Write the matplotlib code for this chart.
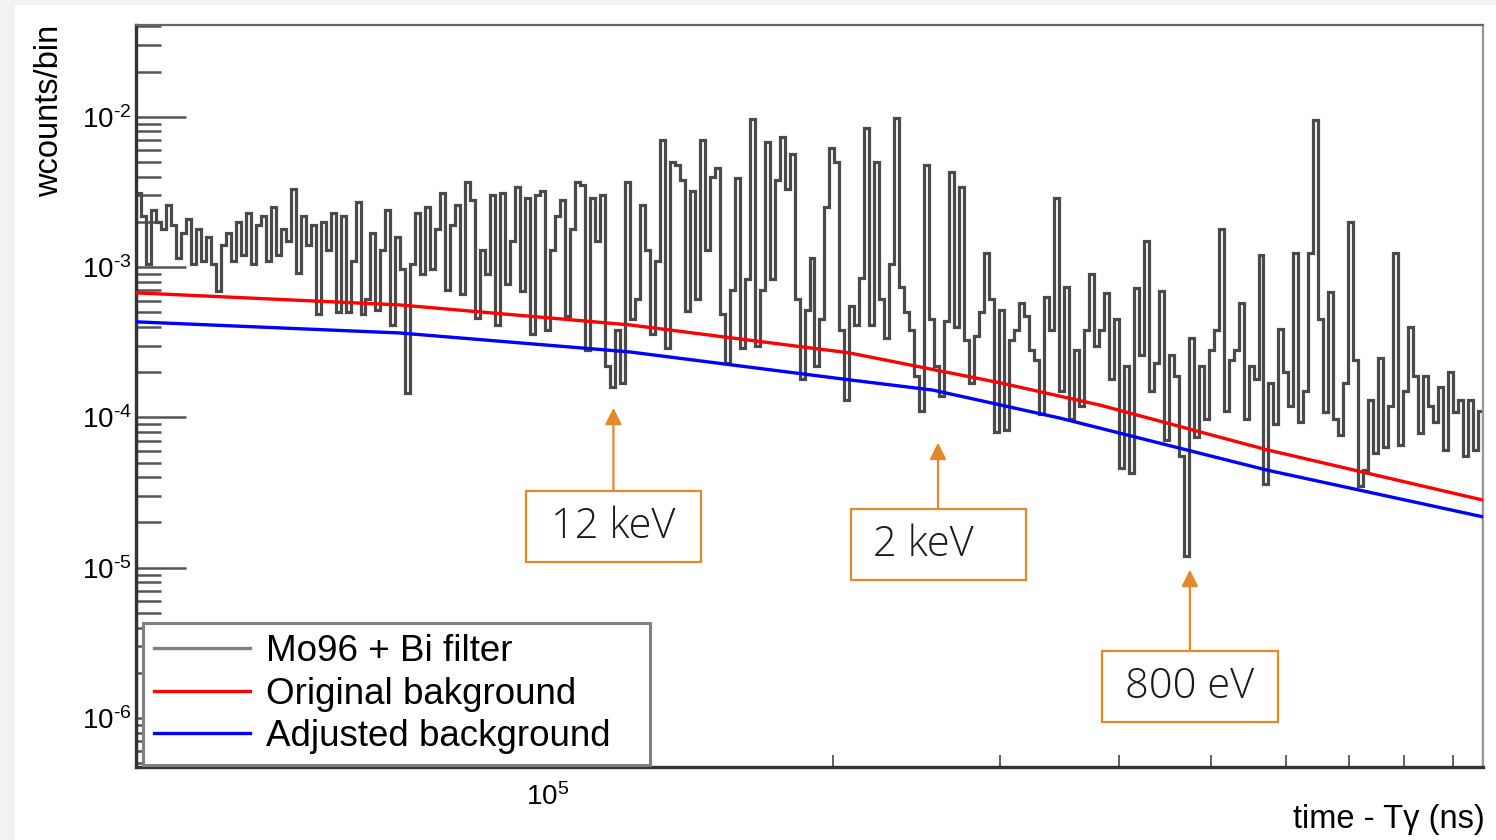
import numpy as np
import matplotlib
matplotlib.use("Agg")
import matplotlib.pyplot as plt
from matplotlib.patches import Rectangle
from matplotlib.ticker import LogLocator, NullFormatter, FuncFormatter
from matplotlib.transforms import blended_transform_factory

# ---- histogram: Mo96 + Bi filter (wcounts/bin, in units of 1e-4), log-spaced bins ----
T_MIN, T_MAX, N_BINS = 3.68e4, 9.69e5, 270

seg1_e4 = [31, 22, 10.5, 24, 20, 18, 26, 19, 11.5, 17,
           21, 10.5, 18, 11, 16, 10.5, 6.9, 14, 17, 11,
           20, 12, 23, 10.5, 19, 22, 11, 25, 12, 18,
           15, 33, 9.2, 22, 14, 19, 4.9, 20, 13, 23,
           5.0, 22, 5.0, 11, 27, 4.9]
seg2_e4 = [6.1, 17, 5.2, 13, 24, 4.1, 16, 9.7, 1.45, 10.5,
           23, 9, 25, 9.7, 18, 31, 7.1, 19, 26, 6.6,
           37, 28, 4.6, 13, 9, 30, 4.1, 31, 7.7, 15,
           34, 6.9, 29, 3.6, 30, 32, 3.8, 13, 22, 28,
           4.7, 18, 37, 35, 2.8]
seg3_e4 = [29, 15, 30, 2.2, 1.6, 3.8, 1.7, 37, 4.5, 6.1,
           26, 13, 3.6, 11, 70, 2.9, 50, 48, 38, 5.1,
           32, 6.1, 70, 13, 40, 46, 4.9, 2.3, 7.1, 39,
           2.9, 8.3, 97, 3.0, 7.1, 68, 8.3, 38, 74, 33,
           57, 6.1, 1.8, 5.2, 11.5]
seg4_e4 = [2.2, 4.5, 25, 62, 50, 3.8, 1.3, 5.5, 4.1, 8.5,
           85, 4.1, 50, 6.1, 3.4, 10.5, 98, 7.4, 5.0, 3.8,
           1.9, 1.1, 48, 4.5, 2.2, 1.4, 4.4, 43, 4.0, 34,
           3.3, 1.7, 3.5, 5.0, 12.5, 6.1, 0.8, 5.2, 0.83, 3.3,
           3.8, 5.8, 4.7, 2.8, 2.4]
seg5_e4 = [1.05, 6.3, 3.8, 29, 1.5, 7.4, 0.97, 2.8, 1.2, 3.8,
           9, 3.0, 3.8, 6.7, 1.8, 4.5, 0.46, 2.2, 0.43, 7.3,
           2.6, 15, 1.5, 2.3, 6.9, 0.71, 2.6, 1.9, 0.55, 0.12,
           3.4, 0.74, 2.2, 0.97, 2.8, 3.8, 18, 1.1, 2.4, 2.8,
           5.8, 0.97, 2.2, 1.8, 12]
seg6_e4 = [0.36, 1.7, 0.9, 3.9, 2.0, 1.2, 12.5, 0.93, 1.5, 12.5,
           96, 4.5, 1.08, 6.8, 0.97, 0.77, 1.7, 20, 2.4, 0.35,
           0.45, 1.3, 0.58, 2.5, 0.64, 1.2, 12.5, 0.66, 1.5, 4.0,
           1.9, 0.79, 1.9, 1.2, 0.93, 1.6, 0.61, 2.0, 1.08, 1.3,
           0.55, 1.3, 0.61, 1.1]

# ---- background curves ----
orig_bkg_t = [3.68e4, 6.98e4, 1.22e5, 2.08e5, 3.0e5, 3.82e5, 5.73e5, 9.69e5]
orig_bkg_v = [6.75e-4, 5.61e-4, 4.13e-4, 2.69e-4, 1.70e-4, 1.21e-4, 6.1e-5, 2.82e-5]
adj_bkg_t = [3.68e4, 6.98e4, 1.22e5, 2.08e5, 2.55e5, 3.47e5, 5.73e5, 9.69e5]
adj_bkg_v = [4.33e-4, 3.65e-4, 2.73e-4, 1.78e-4, 1.52e-4, 9.9e-5, 4.47e-5, 2.18e-5]

# ---- resonance markers ----
res_labels = ["12 keV", "2 keV", "800 eV"]
res_t = [1.173e5, 2.58e5, 4.756e5]
res_v = [1.16e-4, 6.8e-5, 9.7e-6]
# box (x0, y0, w, h) in axes fraction, plus text nudge
res_boxes = [(0.2895, 0.2763, 0.1300, 0.0957),
             (0.5308, 0.2520, 0.1300, 0.0957),
             (0.7171, 0.0606, 0.1307, 0.0957)]
res_text_dx = [0.0, -0.011, 0.0]

plt.rcParams["font.family"] = ["Liberation Sans", "DejaVu Sans"]
plt.rcParams["mathtext.fontset"] = "custom"
plt.rcParams["mathtext.rm"] = "Liberation Sans"
plt.rcParams["axes.unicode_minus"] = False
ORANGE = "#E4892A"


def pow10_label(v, pos):
    # ROOT style: 10^{-2} with a plain hyphen
    e = int(round(np.log10(v)))
    return r"$\mathdefault{10^{\text{%d}}}$" % e


counts = np.array(seg1_e4 + seg2_e4 + seg3_e4 + seg4_e4 + seg5_e4 + seg6_e4) * 1e-4
edges = np.logspace(np.log10(T_MIN), np.log10(T_MAX), N_BINS + 1)

fig = plt.figure(figsize=(14.96, 8.4), dpi=100, facecolor="#f2f2f2")
fig.patches.append(Rectangle((15 / 1496, 0), 1, 1 - 5 / 840, transform=fig.transFigure,
                             facecolor="white", edgecolor="none", zorder=-10))
ax = fig.add_axes([136 / 1496, 73 / 840, 1347 / 1496, 742 / 840])
ax.set_facecolor("white")

ax.stairs(counts, edges, color="#4a4a4a", linewidth=2.3, zorder=2)
ax.plot([], [], color="#808080", linewidth=2.4, label="Mo96 + Bi filter")
ax.plot(orig_bkg_t, orig_bkg_v, color="#ff0000", linewidth=2.4, zorder=3, label="Original bakground")
ax.plot(adj_bkg_t, adj_bkg_v, color="#0000ff", linewidth=2.4, zorder=3, label="Adjusted background")

ax.set_xscale("log"); ax.set_yscale("log")
ax.set_xlim(T_MIN, T_MAX)
ax.set_ylim(4.72e-7, 4.09e-2)

ax.yaxis.set_major_locator(LogLocator(base=10))
ax.yaxis.set_minor_locator(LogLocator(base=10, subs=np.arange(2, 10)))
ax.xaxis.set_minor_locator(LogLocator(base=10, subs=np.arange(2, 10)))
ax.xaxis.set_major_formatter(FuncFormatter(pow10_label))
ax.yaxis.set_major_formatter(FuncFormatter(pow10_label))
ax.xaxis.set_minor_formatter(NullFormatter())
ax.yaxis.set_minor_formatter(NullFormatter())

ax.tick_params(axis="y", which="major", direction="in", length=36, width=1.8, color="#555555",
               left=True, right=False, labelsize=20, pad=3)
ax.tick_params(axis="y", which="minor", direction="in", length=18, width=1.8, color="#555555",
               left=True, right=False)
ax.tick_params(axis="x", which="major", direction="in", length=18, width=1.3, color="#555555",
               bottom=True, top=False, labelsize=20, pad=12)
ax.tick_params(axis="x", which="minor", direction="in", length=9, width=1.3, color="#555555",
               bottom=True, top=False)

for side in ["left", "bottom"]:
    ax.spines[side].set_linewidth(2.4); ax.spines[side].set_color("#333333")
ax.spines["top"].set_linewidth(1.6); ax.spines["top"].set_color("#666666")
ax.spines["right"].set_linewidth(1.6); ax.spines["right"].set_color("#999999")

ax.text(-0.064, 1.0, "wcounts/bin", rotation=90, ha="center", va="top",
        fontsize=23.5, transform=ax.transAxes)
ax.text(1.001, -0.071, "time - Tγ (ns)", ha="right", va="center",
        fontsize=23.5, transform=ax.transAxes)

leg = ax.legend(loc="lower left", bbox_to_anchor=(0.0052, 0.0027, 0.3764, 0.19), mode="expand",
                fontsize=26.5, frameon=True, fancybox=False, framealpha=1, edgecolor="#808080",
                borderaxespad=0, borderpad=0.3, handlelength=2.6, handletextpad=0.45,
                labelspacing=0.2)
leg.get_frame().set_linewidth(2.2)
leg.set_zorder(6)

blend = blended_transform_factory(ax.transData, ax.transAxes)
for lab, t, v, (bx, by, bw, bh), dx in zip(res_labels, res_t, res_v, res_boxes, res_text_dx):
    ax.add_patch(Rectangle((bx, by), bw, bh, transform=ax.transAxes, facecolor="white",
                           edgecolor=ORANGE, linewidth=1.6, zorder=7))
    ax.text(bx + bw / 2 + dx, by + bh / 2, lab, transform=ax.transAxes, ha="center", va="center",
            fontsize=30, family=["Open Sans", "DejaVu Sans"], fontweight="light",
            color="#1a1a1a", zorder=8)
    ax.annotate("", xy=(t, v), xycoords="data", xytext=(t, by + bh), textcoords=blend,
                arrowprops=dict(arrowstyle="-|>,head_length=0.5,head_width=0.25",
                                mutation_scale=20, color=ORANGE, lw=1.6,
                                shrinkA=0, shrinkB=0), zorder=8)

fig.savefig("out.png", dpi=100, facecolor=fig.get_facecolor())
